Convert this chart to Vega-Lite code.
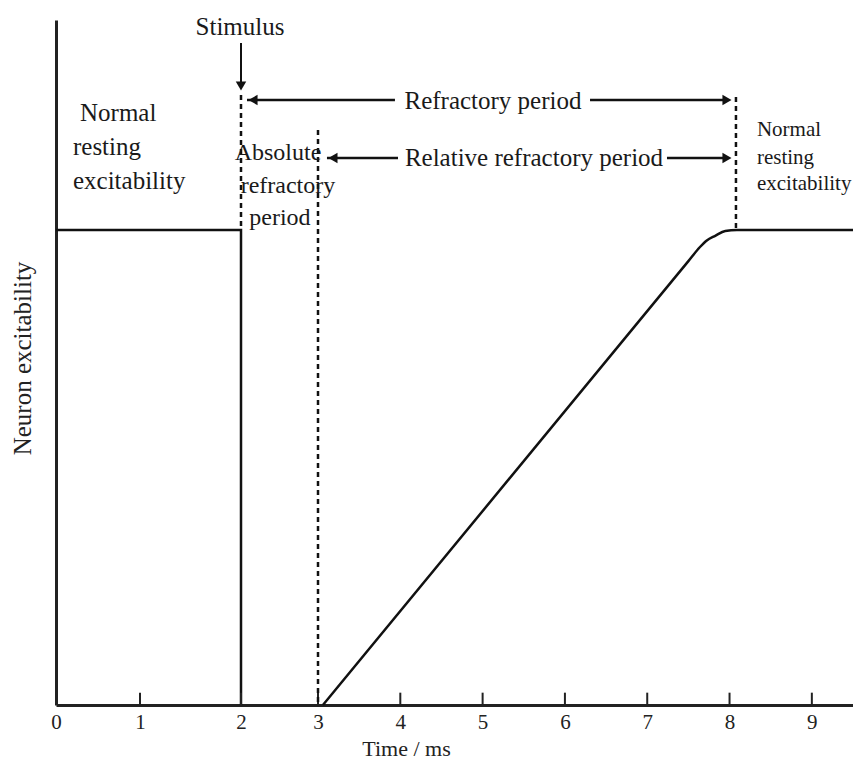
{
  "$schema": "https://vega.github.io/schema/vega-lite/v6.json",
  "width": 797,
  "height": 685,
  "autosize": {"type": "none"},
  "padding": {"left": 56, "top": 20, "right": 0, "bottom": 62},
  "background": "white",
  "config": {
    "view": {"stroke": null},
    "font": "Liberation Serif",
    "text": {"font": "Liberation Serif", "color": "#1a1a1a"}
  },
  "datasets": {
    "step": [
      {"i": 1, "t": 0, "v": 69.34},
      {"i": 2, "t": 2, "v": 69.34},
      {"i": 3, "t": 2, "v": 0}
    ],
    "ramp": [
      {"i": 1, "t": 3.06, "v": 0},
      {"i": 2, "t": 3.2, "v": 2.04},
      {"i": 3, "t": 7.5, "v": 64.8},
      {"i": 4, "t": 7.641, "v": 66.86},
      {"i": 5, "t": 7.724, "v": 67.82},
      {"i": 6, "t": 7.826, "v": 68.5},
      {"i": 7, "t": 7.948, "v": 69.21},
      {"i": 8, "t": 8.09, "v": 69.34},
      {"i": 9, "t": 9.5, "v": 69.34}
    ],
    "ticks": [
      {"t": 1}, {"t": 2}, {"t": 3}, {"t": 4}, {"t": 5}, {"t": 6}, {"t": 7}, {"t": 8}, {"t": 9}
    ],
    "dashed": [
      {"t": 2, "v": 89.05, "v2": 69.34},
      {"t": 3, "v": 83.94, "v2": 0},
      {"t": 8.078, "v": 88.76, "v2": 69.34}
    ],
    "hsegs": [
      {"t": 2.078, "t2": 3.935, "v": 88.32},
      {"t": 6.305, "t2": 7.98, "v": 88.32},
      {"t": 3.109, "t2": 3.972, "v": 79.85},
      {"t": 7.24, "t2": 7.98, "v": 79.85}
    ],
    "vsegs": [
      {"t": 2, "v": 96.64, "v2": 90.5}
    ],
    "heads": [
      {"t": 2.156, "v": 88.32, "shape": "triangle-left"},
      {"t": 7.969, "v": 88.32, "shape": "triangle-right"},
      {"t": 3.182, "v": 79.85, "shape": "triangle-left"},
      {"t": 7.969, "v": 79.85, "shape": "triangle-right"},
      {"t": 2, "v": 90.36, "shape": "triangle-down"}
    ],
    "labels": [
      {"g": "big", "t": 1.99, "v": 98.98, "text": "Stimulus"},
      {"g": "big", "t": 5.126, "v": 88.18, "text": "Refractory period"},
      {"g": "big", "t": 5.624, "v": 79.85, "text": "Relative refractory period"},
      {"g": "mid", "t": 2.48, "v": 80.58, "text": "Absolute"},
      {"g": "mid", "t": 2.61, "v": 75.77, "text": "refractory"},
      {"g": "mid", "t": 2.506, "v": 71.09, "text": "period"},
      {"g": "left", "t": 0.286, "v": 86.42, "text": "Normal"},
      {"g": "left", "t": 0.202, "v": 81.46, "text": "resting"},
      {"g": "left", "t": 0.202, "v": 76.5, "text": "excitability"},
      {"g": "right", "t": 8.333, "v": 83.94, "text": "Normal"},
      {"g": "right", "t": 8.333, "v": 79.85, "text": "resting"},
      {"g": "right", "t": 8.333, "v": 76.06, "text": "excitability"}
    ]
  },
  "layer": [
    {
      "data": {"name": "step"},
      "mark": {"type": "line", "color": "#111", "strokeWidth": 2.5, "strokeJoin": "miter"},
      "encoding": {
        "x": {
          "field": "t", "type": "quantitative",
          "scale": {"domain": [0, 1, 2, 3, 9.5], "range": [0, 84, 185, 262, 797], "nice": false, "zero": false},
          "axis": {
            "title": "Time / ms",
            "values": [0, 1, 2, 3, 4, 5, 6, 7, 8, 9],
            "format": "d",
            "grid": false, "ticks": false,
            "domainColor": "#222", "domainWidth": 3,
            "labelFont": "Liberation Serif", "labelFontSize": 21, "labelColor": "#222", "labelPadding": 6,
            "labelFlush": false,
            "titleFont": "Liberation Serif", "titleFontSize": 22, "titleFontWeight": "normal", "titleColor": "#222",
            "titleX": 350, "titleY": 43, "titleAnchor": "middle", "titleBaseline": "middle"
          }
        },
        "y": {
          "field": "v", "type": "quantitative",
          "scale": {"domain": [0, 100], "nice": false, "zero": false},
          "axis": {
            "title": "Neuron excitability",
            "ticks": false, "labels": false, "grid": false,
            "domainColor": "#222", "domainWidth": 3,
            "titleFont": "Liberation Serif", "titleFontSize": 25, "titleFontWeight": "normal", "titleColor": "#222",
            "titleX": -34, "titleY": 338, "titleAnchor": "middle", "titleBaseline": "middle"
          }
        },
        "order": {"field": "i", "type": "quantitative"}
      }
    },
    {
      "data": {"name": "ramp"},
      "mark": {"type": "line", "color": "#111", "strokeWidth": 2.5, "interpolate": "monotone"},
      "encoding": {
        "x": {"field": "t", "type": "quantitative"},
        "y": {"field": "v", "type": "quantitative"},
        "order": {"field": "i", "type": "quantitative"}
      }
    },
    {
      "data": {"name": "ticks"},
      "mark": {"type": "rule", "color": "#222", "strokeWidth": 2},
      "encoding": {
        "x": {"field": "t", "type": "quantitative"},
        "y": {"datum": 0, "type": "quantitative"},
        "y2": {"datum": 1.8}
      }
    },
    {
      "data": {"name": "dashed"},
      "mark": {"type": "rule", "color": "#111", "strokeWidth": 2.5, "strokeDash": [5, 4]},
      "encoding": {
        "x": {"field": "t", "type": "quantitative"},
        "y": {"field": "v", "type": "quantitative"},
        "y2": {"field": "v2"}
      }
    },
    {
      "data": {"name": "hsegs"},
      "mark": {"type": "rule", "color": "#111", "strokeWidth": 2.5},
      "encoding": {
        "x": {"field": "t", "type": "quantitative"},
        "x2": {"field": "t2"},
        "y": {"field": "v", "type": "quantitative"}
      }
    },
    {
      "data": {"name": "vsegs"},
      "mark": {"type": "rule", "color": "#111", "strokeWidth": 2},
      "encoding": {
        "x": {"field": "t", "type": "quantitative"},
        "y": {"field": "v", "type": "quantitative"},
        "y2": {"field": "v2"}
      }
    },
    {
      "data": {"name": "heads"},
      "mark": {"type": "point", "filled": true, "color": "#111", "opacity": 1, "size": 110},
      "encoding": {
        "x": {"field": "t", "type": "quantitative"},
        "y": {"field": "v", "type": "quantitative"},
        "shape": {"field": "shape", "type": "nominal", "scale": null, "legend": null}
      }
    },
    {
      "data": {"name": "labels"},
      "transform": [{"filter": "datum.g === 'big'"}],
      "mark": {"type": "text", "fontSize": 25, "align": "center", "baseline": "middle"},
      "encoding": {
        "x": {"field": "t", "type": "quantitative"},
        "y": {"field": "v", "type": "quantitative"},
        "text": {"field": "text"}
      }
    },
    {
      "data": {"name": "labels"},
      "transform": [{"filter": "datum.g === 'mid'"}],
      "mark": {"type": "text", "fontSize": 24, "align": "center", "baseline": "middle"},
      "encoding": {
        "x": {"field": "t", "type": "quantitative"},
        "y": {"field": "v", "type": "quantitative"},
        "text": {"field": "text"}
      }
    },
    {
      "data": {"name": "labels"},
      "transform": [{"filter": "datum.g === 'left'"}],
      "mark": {"type": "text", "fontSize": 25, "align": "left", "baseline": "middle"},
      "encoding": {
        "x": {"field": "t", "type": "quantitative"},
        "y": {"field": "v", "type": "quantitative"},
        "text": {"field": "text"}
      }
    },
    {
      "data": {"name": "labels"},
      "transform": [{"filter": "datum.g === 'right'"}],
      "mark": {"type": "text", "fontSize": 21, "align": "left", "baseline": "middle"},
      "encoding": {
        "x": {"field": "t", "type": "quantitative"},
        "y": {"field": "v", "type": "quantitative"},
        "text": {"field": "text"}
      }
    }
  ]
}
